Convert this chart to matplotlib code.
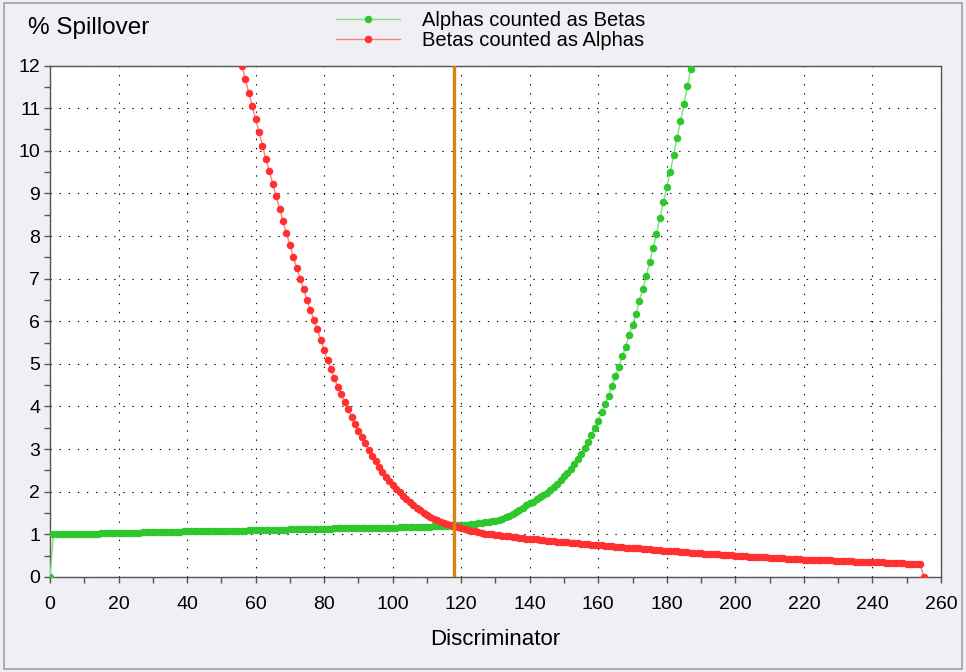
import matplotlib
matplotlib.use("Agg")
import matplotlib.pyplot as plt
from matplotlib.patches import Rectangle
from matplotlib.ticker import MultipleLocator

plt.rcParams["font.family"] = ["Liberation Sans", "DejaVu Sans"]

# Alphas counted as Betas: discriminator 0..187
alpha_x = list(range(0, 188))
alpha_y = [
    0.00,
    1.00, 1.00, 1.00, 1.01, 1.01, 1.01, 1.01, 1.01, 1.02, 1.02,
    1.02, 1.02, 1.02, 1.02, 1.03, 1.03, 1.03, 1.03, 1.03, 1.03,
    1.04, 1.04, 1.04, 1.04, 1.04, 1.04, 1.05, 1.05, 1.05, 1.05,
    1.05, 1.05, 1.06, 1.06, 1.06, 1.06, 1.06, 1.06, 1.07, 1.07,
    1.07, 1.07, 1.07, 1.07, 1.08, 1.08, 1.08, 1.08, 1.08, 1.08,
    1.09, 1.09, 1.09, 1.09, 1.09, 1.09, 1.09, 1.10, 1.10, 1.10,
    1.10, 1.10, 1.10, 1.11, 1.11, 1.11, 1.11, 1.11, 1.11, 1.12,
    1.12, 1.12, 1.12, 1.12, 1.12, 1.13, 1.13, 1.13, 1.13, 1.13,
    1.13, 1.13, 1.14, 1.14, 1.14, 1.14, 1.14, 1.14, 1.15, 1.15,
    1.15, 1.15, 1.15, 1.15, 1.15, 1.16, 1.16, 1.16, 1.16, 1.16,
    1.16, 1.17, 1.17, 1.17, 1.17, 1.17, 1.18, 1.18, 1.18, 1.18,
    1.18, 1.19, 1.19, 1.19, 1.20, 1.20, 1.20, 1.21, 1.21, 1.22,
    1.22, 1.23, 1.24, 1.25, 1.26, 1.27, 1.28, 1.30, 1.31, 1.32,
    1.34, 1.37, 1.40, 1.44, 1.48, 1.53, 1.58, 1.63, 1.68, 1.73,
    1.77, 1.82, 1.87, 1.93, 1.98, 2.04, 2.11, 2.19, 2.27, 2.36,
    2.45, 2.54, 2.65, 2.77, 2.89, 3.03, 3.17, 3.33, 3.50, 3.67,
    3.86, 4.05, 4.25, 4.48, 4.71, 4.93, 5.18, 5.40, 5.68, 5.91,
    6.16, 6.48, 6.76, 7.07, 7.38, 7.72, 8.05, 8.43, 8.79, 9.15,
    9.50, 9.89, 10.30, 10.69, 11.09, 11.51, 11.92,
]

# Betas counted as Alphas: discriminator 56..255
beta_x = list(range(56, 256))
beta_y = [
    11.99, 11.68, 11.36, 11.05,
    10.75, 10.43, 10.12, 9.80, 9.52, 9.22, 8.93, 8.64, 8.35, 8.06,
    7.80, 7.51, 7.25, 7.00, 6.75, 6.50, 6.27, 6.03, 5.81, 5.57,
    5.33, 5.08, 4.88, 4.66, 4.46, 4.29, 4.10, 3.93, 3.76, 3.59,
    3.43, 3.28, 3.14, 2.99, 2.85, 2.71, 2.59, 2.46, 2.35, 2.25,
    2.15, 2.07, 1.99, 1.91, 1.83, 1.76, 1.69, 1.62, 1.56, 1.50,
    1.45, 1.40, 1.36, 1.33, 1.30, 1.27, 1.24, 1.22, 1.20, 1.17,
    1.15, 1.13, 1.11, 1.09, 1.07, 1.05, 1.04, 1.02, 1.01, 1.00,
    0.99, 0.98, 0.97, 0.96, 0.95, 0.94, 0.93, 0.92, 0.91, 0.90,
    0.89, 0.88, 0.88, 0.87, 0.86, 0.85, 0.85, 0.84, 0.83, 0.82,
    0.82, 0.81, 0.80, 0.80, 0.79, 0.78, 0.77, 0.77, 0.76, 0.75,
    0.75, 0.74, 0.73, 0.73, 0.72, 0.71, 0.71, 0.70, 0.69, 0.69,
    0.68, 0.67, 0.67, 0.66, 0.65, 0.65, 0.64, 0.63, 0.63, 0.62,
    0.62, 0.61, 0.60, 0.60, 0.59, 0.59, 0.58, 0.57, 0.57, 0.56,
    0.56, 0.55, 0.55, 0.54, 0.53, 0.53, 0.52, 0.52, 0.51, 0.51,
    0.50, 0.50, 0.49, 0.49, 0.48, 0.48, 0.47, 0.47, 0.46, 0.46,
    0.45, 0.45, 0.45, 0.44, 0.44, 0.43, 0.43, 0.43, 0.42, 0.42,
    0.41, 0.41, 0.41, 0.40, 0.40, 0.40, 0.39, 0.39, 0.39, 0.38,
    0.38, 0.38, 0.37, 0.37, 0.37, 0.36, 0.36, 0.36, 0.35, 0.35,
    0.35, 0.34, 0.34, 0.34, 0.33, 0.33, 0.33, 0.32, 0.32, 0.32,
    0.31, 0.31, 0.31, 0.30, 0.30, 0.00,
]

discriminator = 118

bg = "#efeff4"
fig = plt.figure(figsize=(9.66, 6.72), dpi=100, facecolor=bg)
fig.patches.append(Rectangle((0.004, 0.005), 0.992, 0.99, transform=fig.transFigure,
                             fill=False, edgecolor="#a0a0a0", linewidth=1.2))
ax = fig.add_axes([0.0518, 0.1414, 0.9222, 0.7611])
ax.set_facecolor("white")

ax.plot(alpha_x, alpha_y, color="#7fe07f", linewidth=1.0, marker="o", markersize=4.4,
        markerfacecolor="#2ec82e", markeredgecolor="#2ec82e", label="Alphas counted as Betas", zorder=3)
ax.plot(beta_x, beta_y, color="#ff7f7f", linewidth=1.0, marker="o", markersize=4.4,
        markerfacecolor="#ff3030", markeredgecolor="#ff3030", label="Betas counted as Alphas", zorder=3)
ax.axvline(discriminator, color="#d8820f", linewidth=2.4, zorder=4)

ax.set_xlim(0, 260)
ax.set_ylim(0, 12)
ax.xaxis.set_major_locator(MultipleLocator(20))
ax.xaxis.set_minor_locator(MultipleLocator(10))
ax.yaxis.set_major_locator(MultipleLocator(1))
ax.yaxis.set_minor_locator(MultipleLocator(0.5))
ax.grid(True, which="major", color="black", linestyle=(0, (1.2, 7)), linewidth=0.8)
ax.tick_params(which="both", direction="out", length=4, width=1, color="#555555",
               labelsize=14)
ax.tick_params(axis="x", which="both", pad=10)
ax.tick_params(axis="y", which="both", pad=3)
for s in ax.spines.values():
    s.set_color("#555555")
    s.set_linewidth(1.0)

ax.set_xlabel("Discriminator", fontsize=16, labelpad=11)
fig.text(0.029, 0.958, "% Spillover", fontsize=17.5, va="center", ha="left")

fig.legend(loc="upper left", bbox_to_anchor=(0.331, 1.008), frameon=False, fontsize=14.5,
           handlelength=3.2, handletextpad=1.1, labelspacing=0.05, numpoints=1,
           borderpad=0.3)

fig.savefig("out.png", dpi=100, facecolor=bg)
